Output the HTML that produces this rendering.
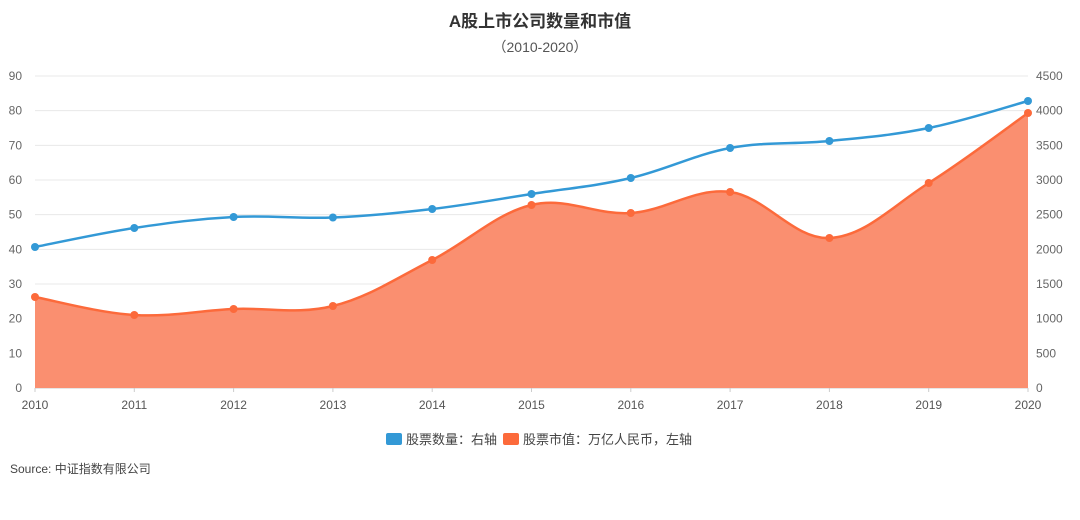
<!DOCTYPE html>
<html><head><meta charset="utf-8"><style>
body{margin:0;background:#fff;}
svg text{font-family:"Liberation Sans","Noto Sans CJK SC",sans-serif;}
</style></head><body>
<svg id="s" width="1080" height="515" xmlns="http://www.w3.org/2000/svg">
<rect width="1080" height="515" fill="#fff"/>
<text x="540" y="27" text-anchor="middle" font-size="17" font-weight="bold" fill="#333">A股上市公司数量和市值</text>
<text x="540" y="52" text-anchor="middle" font-size="14" fill="#555">（2010-2020）</text>
<g id="grid"></g>
<path id="area" fill="#fa8f70"/>
<path id="oline" fill="none" stroke="#fc6a3b" stroke-width="2.5"/>
<path id="bline" fill="none" stroke="#3399d6" stroke-width="2.5"/>
<g id="pts"></g>
<rect x="386" y="433" width="16" height="12" rx="2" fill="#3399d6"/>
<text x="406" y="444" font-size="13" fill="#444">股票数量：右轴</text>
<rect x="503" y="433" width="16" height="12" rx="2" fill="#fc6a3b"/>
<text x="523" y="444" font-size="13" fill="#444">股票市值：万亿人民币，左轴</text>
<text x="10" y="473" font-size="12" fill="#444">Source: 中证指数有限公司</text>
</svg>
<script>
(function(){
var NS="http://www.w3.org/2000/svg";
function el(t,a,txt){var e=document.createElementNS(NS,t);for(var k in a)e.setAttribute(k,a[k]);if(txt!=null)e.textContent=txt;return e;}
var g=document.getElementById('grid');
var T=76,B=388,L=35,R=1028;
for(var i=0;i<=9;i++){var y=B-(B-T)*i/9;
 g.appendChild(el('line',{x1:L,x2:R,y1:y,y2:y,stroke:i==0?'#ccc':'#e8e8e8','stroke-width':1}));
 g.appendChild(el('text',{x:22,y:y+4,'text-anchor':'end','font-size':12,fill:'#666'},i*10));
 g.appendChild(el('text',{x:1036,y:y+4,'font-size':12,fill:'#666'},i*500));}
var xs=[];for(var i=0;i<11;i++){var x=L+(R-L)*i/10;xs.push(x);
 g.appendChild(el('line',{x1:x,x2:x,y1:B,y2:B+4,stroke:'#ccc'}));
 g.appendChild(el('text',{x:x,y:409,'text-anchor':'middle','font-size':12,fill:'#555'},2010+i));}
var by=[247,228,217,217.5,209,194,178,148,141,128,101];
var oy=[297,315,309,306,260,205,213,192,238,183,113];
function path(ys){var p=[];for(var i=0;i<ys.length;i++)p.push([xs[i],ys[i]]);
 var d='M'+p[0][0]+','+p[0][1];
 for(var i=0;i<p.length-1;i++){var p0=p[i-1]||p[i],p1=p[i],p2=p[i+1],p3=p[i+2]||p2;
  var t=0.18;
  d+=' C'+(p1[0]+(p2[0]-p0[0])*t)+','+(p1[1]+(p2[1]-p0[1])*t)+' '+(p2[0]-(p3[0]-p1[0])*t)+','+(p2[1]-(p3[1]-p1[1])*t)+' '+p2[0]+','+p2[1];}
 return d;}
var od=path(oy);
document.getElementById('oline').setAttribute('d',od);
document.getElementById('area').setAttribute('d',od+' L'+R+','+B+' L'+L+','+B+' Z');
document.getElementById('bline').setAttribute('d',path(by));
var pg=document.getElementById('pts');
for(var i=0;i<11;i++){pg.appendChild(el('circle',{cx:xs[i],cy:oy[i],r:4,fill:'#fc6a3b'}));pg.appendChild(el('circle',{cx:xs[i],cy:by[i],r:4,fill:'#3399d6'}));}
})();
</script>
</body></html>
